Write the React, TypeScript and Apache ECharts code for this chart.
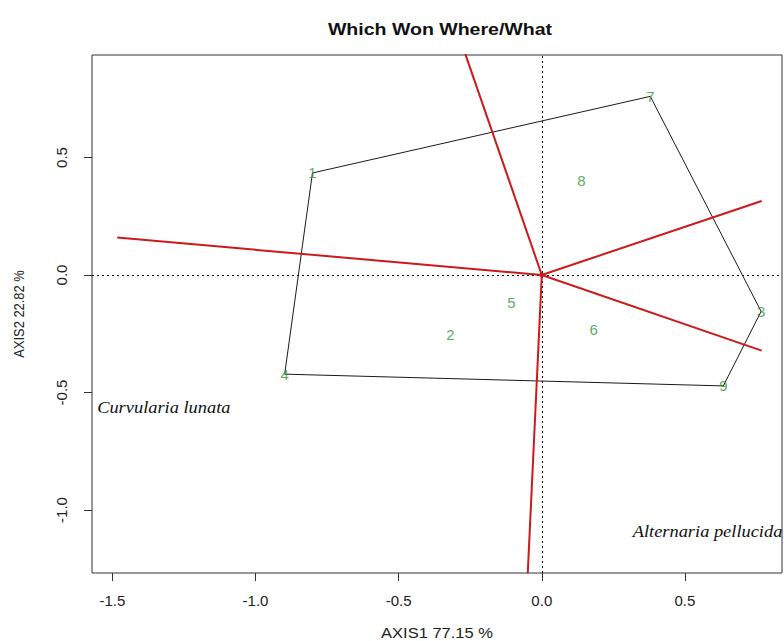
import React, { useEffect, useRef } from "react";
import * as echarts from "echarts";

// Genotype scores (AXIS1, AXIS2)
const genotypes = ["1", "2", "3", "4", "5", "6", "7", "8", "9"];
const genoX = [-0.801, -0.319, 0.766, -0.898, -0.106, 0.181, 0.379, 0.138, 0.634];
const genoY = [0.434, -0.252, -0.155, -0.422, -0.118, -0.234, 0.760, 0.401, -0.472];
// Convex hull (polygon) vertex order
const hullOrder = ["1", "7", "3", "9", "4", "1"];
// Sector-dividing rays from the origin
const rayEndX = [-1.483, -0.267, 0.768, 0.768, -0.049];
const rayEndY = [0.159, 0.94, 0.315, -0.322, -1.269];
// Environment labels
const envNames = ["Curvularia lunata", "Alternaria pellucida"];
const envX = [-1.553, 0.3175];
const envY = [-0.567, -1.095];
// Axes
const xTicks = [-1.5, -1.0, -0.5, 0.0, 0.5];
const yTicks = [-1.0, -0.5, 0.0, 0.5];
const xRange = [-1.571, 0.839];
const yRange = [-1.268, 0.936];
const titleText = "Which Won Where/What";
const xName = "AXIS1 77.15 %";
const yName = "AXIS2 22.82 %";

const GREEN = "#2f9436";
const RED = "#cc1a1a";
const SANS = "'Liberation Sans', Arial, sans-serif";
const SERIF = "'Liberation Serif', 'Times New Roman', serif";

export default function App() {
  const ref = useRef<HTMLDivElement>(null);
  useEffect(() => {
    if (!ref.current) return;
    const chart = echarts.init(ref.current, null, { renderer: "svg" });

    const hullData = hullOrder.map((id) => {
      const i = genotypes.indexOf(id);
      return [genoX[i], genoY[i]];
    });

    const raySeries = rayEndX.map((x, i) => ({
      type: "line",
      data: [
        [0, 0],
        [x, rayEndY[i]],
      ],
      symbol: "none",
      clip: true,
      lineStyle: { color: RED, width: 2 },
      silent: true,
      z: 4,
    }));

    const option: any = {
      animation: false,
      backgroundColor: "#ffffff",
      grid: {
        left: 92,
        right: 2,
        top: 55,
        bottom: 68,
        show: true,
        borderColor: "#333333",
        borderWidth: 1,
        backgroundColor: "transparent",
      },
      xAxis: {
        type: "value",
        min: xRange[0],
        max: xRange[1],
        axisLine: { show: false, onZero: false },
        splitLine: { show: false },
        axisTick: {
          show: true,
          length: 8,
          customValues: xTicks,
          lineStyle: { color: "#333333" },
        },
        axisLabel: {
          customValues: xTicks,
          formatter: (v: number) => v.toFixed(1),
          fontFamily: SANS,
          fontSize: 15,
          color: "#222222",
          margin: 20,
        },
      },
      yAxis: {
        type: "value",
        min: yRange[0],
        max: yRange[1],
        axisLine: { show: false, onZero: false },
        splitLine: { show: false },
        axisTick: {
          show: true,
          length: 8,
          customValues: yTicks,
          lineStyle: { color: "#333333" },
        },
        axisLabel: {
          customValues: yTicks,
          formatter: (v: number) => v.toFixed(1),
          rotate: 90,
          fontFamily: SANS,
          fontSize: 15,
          color: "#222222",
          margin: 23,
        },
      },
      graphic: [
        {
          type: "text",
          x: 440,
          y: 29,
          scaleX: 1.15,
          style: {
            text: titleText,
            font: `bold 17px ${SANS}`,
            fill: "#111111",
            align: "center",
            verticalAlign: "middle",
          },
        },
        {
          type: "text",
          x: 437,
          y: 633,
          scaleX: 1.1,
          style: {
            text: xName,
            font: `15px ${SANS}`,
            fill: "#222222",
            align: "center",
            verticalAlign: "middle",
          },
        },
        {
          type: "text",
          x: 19,
          y: 314,
          rotation: Math.PI / 2,
          scaleX: 0.92,
          style: {
            text: yName,
            font: `14px ${SANS}`,
            fill: "#222222",
            align: "center",
            verticalAlign: "middle",
          },
        },
      ],
      series: [
        {
          type: "line",
          data: hullData,
          symbol: "none",
          lineStyle: { color: "#1a1a1a", width: 1 },
          silent: true,
          z: 3,
          markLine: {
            silent: true,
            symbol: ["none", "none"],
            label: { show: false },
            lineStyle: { color: "#000000", width: 1, type: [2, 3] },
            data: [{ xAxis: 0 }, { yAxis: 0 }],
            z: 2,
          },
        },
        ...raySeries,
        {
          type: "scatter",
          data: [[0, 0]],
          symbolSize: 5,
          itemStyle: { color: RED },
          silent: true,
          z: 5,
        },
        {
          type: "scatter",
          data: genotypes.map((g, i) => [genoX[i], genoY[i], g]),
          symbolSize: 14,
          itemStyle: { color: "rgba(0,0,0,0)" },
          silent: true,
          z: 6,
          label: {
            show: true,
            position: "inside",
            formatter: (p: any) => p.data[2],
            color: GREEN,
            fontFamily: SANS,
            fontSize: 15,
          },
        },
        {
          type: "custom",
          data: envNames.map((n, i) => [envX[i], envY[i]]),
          silent: true,
          z: 6,
          clip: false,
          renderItem: (params: any, api: any) => {
            const p = api.coord([api.value(0), api.value(1)]);
            return {
              type: "text",
              x: p[0],
              y: p[1],
              scaleX: 1.15,
              style: {
                text: envNames[params.dataIndex],
                font: `italic 16px ${SERIF}`,
                fill: "#111111",
                align: "left",
                verticalAlign: "middle",
              },
            };
          },
        },
      ],
    };

    chart.setOption(option);
    return () => chart.dispose();
  }, []);

  return (
    <div
      ref={ref}
      style={{ position: "fixed", left: 0, top: 0, width: 784, height: 641 }}
    />
  );
}
